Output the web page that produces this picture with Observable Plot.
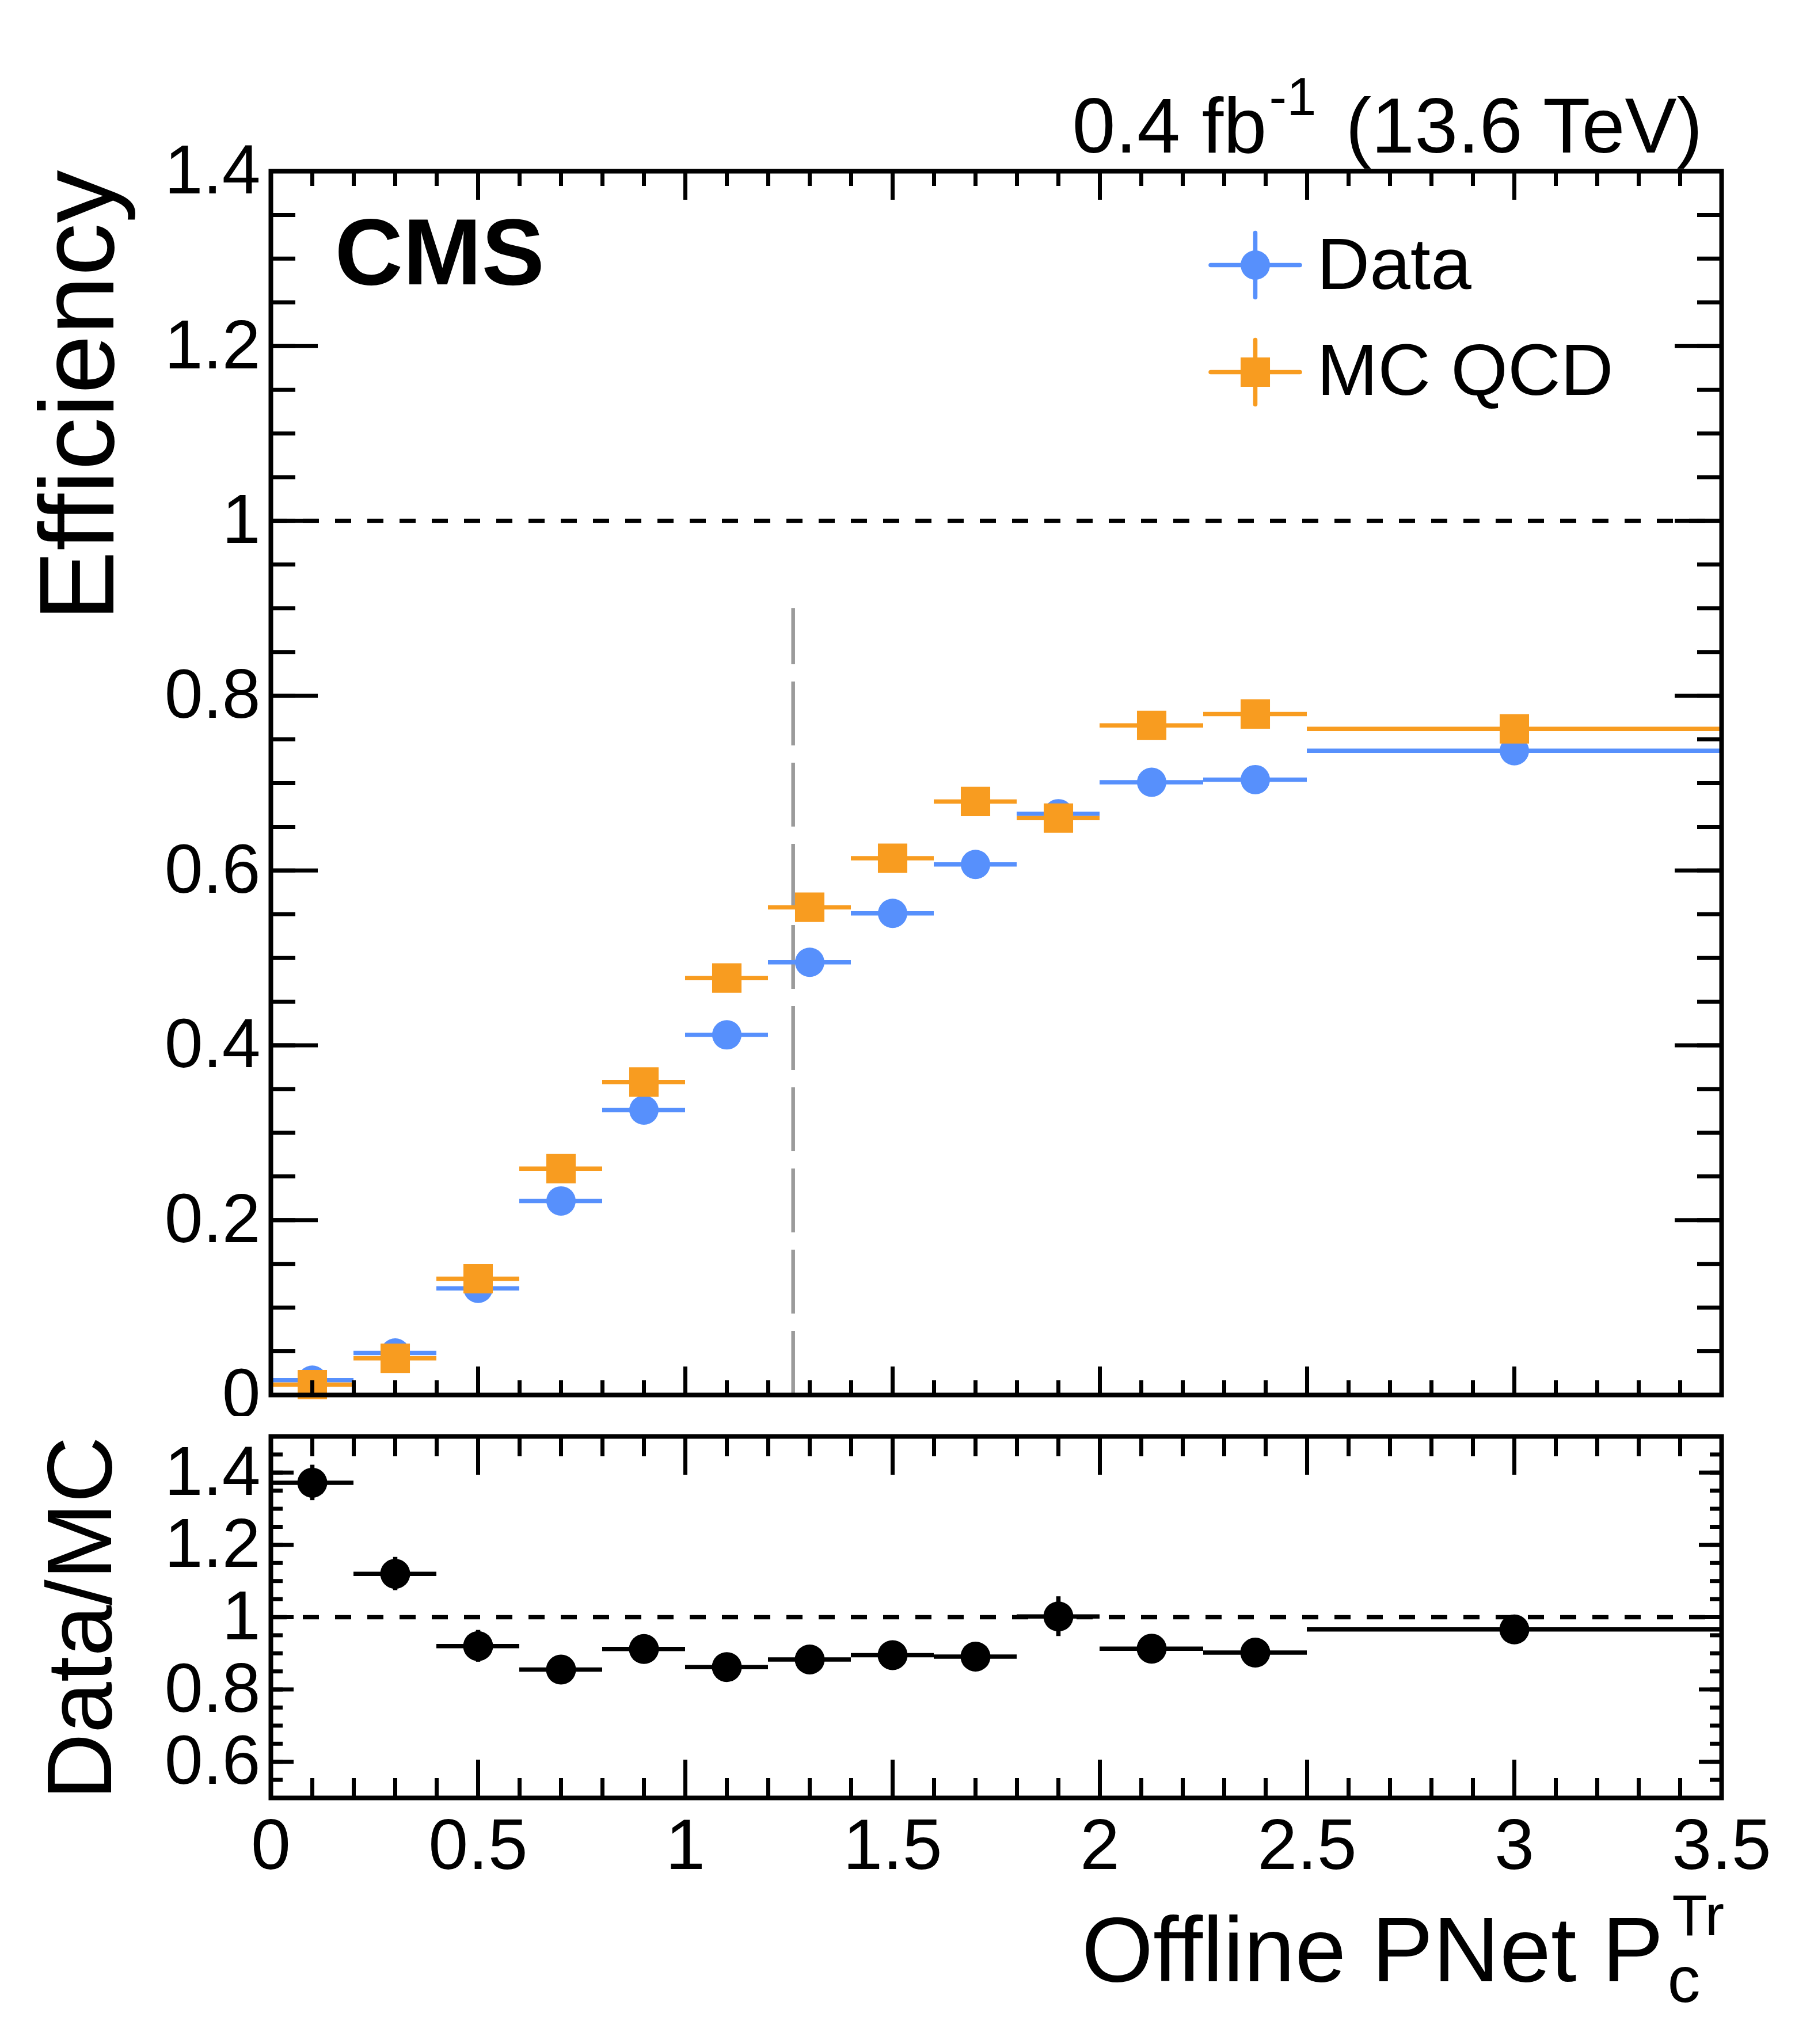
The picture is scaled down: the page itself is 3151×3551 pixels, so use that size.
<!DOCTYPE html>
<html><head><meta charset="utf-8">
<script src="https://cdn.jsdelivr.net/npm/d3@7"></script>
<script src="https://cdn.jsdelivr.net/npm/@observablehq/plot@0.6"></script>
<style>
html,body{margin:0;padding:0;background:#fff;}
#wrap{position:relative;width:3151px;height:3551px;background:#fff;overflow:hidden;}
#wrap svg{position:absolute;left:0;display:block;}
</style></head><body><div id="wrap"></div>
<script>
// ---- data ----
const binLo     = [0.0, 0.2, 0.4, 0.6, 0.8, 1.0, 1.2, 1.4, 1.6, 1.8, 2.0, 2.25, 2.5];
const binHi     = [0.2, 0.4, 0.6, 0.8, 1.0, 1.2, 1.4, 1.6, 1.8, 2.0, 2.25, 2.5, 3.5];
const binCenter = [0.1, 0.3, 0.5, 0.7, 0.9, 1.1, 1.3, 1.5, 1.7, 1.9, 2.125, 2.375, 3.0];
const dataEff   = [0.017, 0.048, 0.122, 0.222, 0.326, 0.412, 0.495, 0.551, 0.607, 0.665, 0.701, 0.704, 0.737];
const dataErr   = [0.003, 0.004, 0.006, 0.007, 0.008, 0.008, 0.008, 0.008, 0.008, 0.010, 0.008, 0.008, 0.006];
const mcEff     = [0.0118, 0.042, 0.133, 0.259, 0.358, 0.477, 0.558, 0.614, 0.679, 0.660, 0.766, 0.779, 0.762];
const mcErr     = [0.002, 0.003, 0.005, 0.006, 0.006, 0.007, 0.007, 0.007, 0.007, 0.008, 0.007, 0.007, 0.005];
const ratioVal  = [1.372, 1.120, 0.920, 0.855, 0.912, 0.862, 0.883, 0.895, 0.891, 1.002, 0.913, 0.902, 0.966];
const ratioErr  = [0.049, 0.046, 0.044, 0.035, 0.032, 0.030, 0.030, 0.030, 0.030, 0.055, 0.030, 0.030, 0.020];
const wpCut = 1.26;          // vertical grey dashed line
const wpCutTop = 0.9;
const xMajor = [0, 0.5, 1, 1.5, 2, 2.5, 3, 3.5];
const xTickLabels = ["0", "0.5", "1", "1.5", "2", "2.5", "3", "3.5"];
const yMainMajor = [0, 0.2, 0.4, 0.6, 0.8, 1, 1.2, 1.4];
const yMainLabels = ["0", "0.2", "0.4", "0.6", "0.8", "1", "1.2", "1.4"];
const yRatioMajor = [0.6, 0.8, 1, 1.2, 1.4];
const yRatioLabels = ["0.6", "0.8", "1", "1.2", "1.4"];
const legendLabels = ["Data", "MC QCD"];
const cmsLabel = ["CMS"];
const lumiMain = ["0.4 fb"], lumiSup = ["-1"], lumiTail = ["(13.6 TeV)"];
const yTitleMain = ["Efficiency"], yTitleRatio = ["Data/MC"];
const xTitle = ["Offline PNet P"], xTitleSub = ["c"], xTitleSup = ["Tr"];

// ---- style ----
const BLUE = "#5790fc", ORANGE = "#f89c20";
const FONT = "'Liberation Sans', Arial, Helvetica, sans-serif";
const W = 3151, ML = 470, MR = W - 2990;
const mainH = 2460, mainMT = 297, mainMB = mainH - 2423;
const ratioTopPx = 2460, ratioH = 3551 - 2460, ratioMT = 2495 - 2460, ratioMB = 3551 - 3123;

const xMinor = d3.range(36).map(i => +(i / 10).toFixed(2));
const yMainMinor = d3.range(29).map(i => +(i * 0.05).toFixed(2));
const yRatioMinor = d3.range(21).map(i => +(0.5 + i * 0.05).toFixed(2));
const lookup = (vals, labs) => d => labs[vals.findIndex(v => Math.abs(v - d) < 1e-9)];
const vline = {draw(ctx, l) { ctx.moveTo(0, 0); ctx.lineTo(0, -l); }};
const none = () => "";

function ticks(xMaj, xMin, yMaj, yMin, xMajL, xMinL, yMajL, yMinL) {
  const sw = 7;
  const o = {tickFormat: none, strokeWidth: sw, label: null};
  return [
    Plot.axisX({...o, ticks: xMaj, anchor: "bottom", tickSize: -xMajL}),
    Plot.axisX({...o, ticks: xMin, anchor: "bottom", tickSize: -xMinL}),
    Plot.axisX({...o, ticks: xMaj, anchor: "top", tickSize: -xMajL}),
    Plot.axisX({...o, ticks: xMin, anchor: "top", tickSize: -xMinL}),
    Plot.axisY({...o, ticks: yMaj, anchor: "left", tickSize: -yMajL}),
    Plot.axisY({...o, ticks: yMin, anchor: "left", tickSize: -yMinL}),
    Plot.axisY({...o, ticks: yMaj, anchor: "right", tickSize: -yMajL}),
    Plot.axisY({...o, ticks: yMin, anchor: "right", tickSize: -yMinL})
  ];
}

const rows = binLo.map((lo, i) => ({
  lo, hi: binHi[i], x: binCenter[i],
  d: dataEff[i], de: dataErr[i], m: mcEff[i], me: mcErr[i],
  r: ratioVal[i], re: ratioErr[i]
}));

const BW = 7.5;
const mainPlot = Plot.plot({
  width: W, height: mainH,
  marginLeft: ML, marginRight: MR, marginTop: mainMT, marginBottom: mainMB,
  style: {fontFamily: FONT, background: "white", overflow: "visible"},
  x: {domain: [0, 3.5]},
  y: {domain: [0, 1.4]},
  marks: [
    Plot.ruleY([1], {stroke: "black", strokeWidth: 7.5, strokeDasharray: "28,28"}),
    Plot.ruleX([wpCut], {y1: 0, y2: wpCutTop, stroke: "#9b9b9b", strokeWidth: 6.5, strokeDasharray: "111,30"}),
    // Data
    Plot.ruleY(rows, {x1: "lo", x2: "hi", y: "d", stroke: BLUE, strokeWidth: BW}),
    Plot.ruleX(rows, {x: "x", y1: r => r.d - r.de, y2: r => r.d + r.de, stroke: BLUE, strokeWidth: BW}),
    Plot.dot(rows, {x: "x", y: "d", r: 25.5, fill: BLUE}),
    // MC
    Plot.ruleY(rows, {x1: "lo", x2: "hi", y: "m", stroke: ORANGE, strokeWidth: BW}),
    Plot.ruleX(rows, {x: "x", y1: r => r.m - r.me, y2: r => r.m + r.me, stroke: ORANGE, strokeWidth: BW}),
    Plot.dot(rows, {x: "x", y: "m", r: 28.8, symbol: "square", fill: ORANGE}),
    Plot.frame({stroke: "black", strokeWidth: 8}),
    ...ticks(xMajor, xMinor, yMainMajor, yMainMinor, 49, 25, 82, 43),
    Plot.axisY({ticks: yMainMajor, anchor: "left", tickSize: 0, tickPadding: 18, tickFormat: lookup(yMainMajor, yMainLabels), fontSize: 120, label: null}),
    // legend
    Plot.vector([legendLabels[0]], {frameAnchor: "top-right", dx: -810, dy: 163, length: 112, rotate: 0, anchor: "middle", shape: vline, stroke: BLUE, strokeWidth: BW}),
    Plot.vector([legendLabels[0]], {frameAnchor: "top-right", dx: -810, dy: 163, length: 155, rotate: 90, anchor: "middle", shape: vline, stroke: BLUE, strokeWidth: BW}),
    Plot.dot([legendLabels[0]], {frameAnchor: "top-right", dx: -810, dy: 163, r: 25.5, fill: BLUE}),
    Plot.vector([legendLabels[1]], {frameAnchor: "top-right", dx: -810, dy: 349, length: 112, rotate: 0, anchor: "middle", shape: vline, stroke: ORANGE, strokeWidth: BW}),
    Plot.vector([legendLabels[1]], {frameAnchor: "top-right", dx: -810, dy: 349, length: 155, rotate: 90, anchor: "middle", shape: vline, stroke: ORANGE, strokeWidth: BW}),
    Plot.dot([legendLabels[1]], {frameAnchor: "top-right", dx: -810, dy: 349, r: 28.8, symbol: "square", fill: ORANGE}),
    Plot.text([legendLabels[0]], {frameAnchor: "top-right", text: d => d, dx: -703, dy: 204, textAnchor: "start", lineAnchor: "bottom", fontSize: 127}),
    Plot.text([legendLabels[1]], {frameAnchor: "top-right", text: d => d, dx: -703, dy: 388, textAnchor: "start", lineAnchor: "bottom", fontSize: 127}),
    // CMS label
    Plot.text(cmsLabel, {frameAnchor: "top-left", text: d => d, dx: 111, dy: 196, textAnchor: "start", lineAnchor: "bottom", fontSize: 164, fontWeight: "bold"}),
    // lumi
    Plot.text(lumiMain, {frameAnchor: "top-right", text: d => d, dx: -1128, dy: -33, textAnchor: "start", lineAnchor: "bottom", fontSize: 135}),
    Plot.text(lumiSup, {frameAnchor: "top-right", text: d => d, dx: -786, dy: -98, textAnchor: "start", lineAnchor: "bottom", fontSize: 92}),
    Plot.text(lumiTail, {frameAnchor: "top-right", text: d => d, dx: -33, dy: -33, textAnchor: "end", lineAnchor: "bottom", fontSize: 135}),
    // y title
    Plot.text(yTitleMain, {frameAnchor: "top-left", text: d => d, dx: -274, dy: -2, rotate: -90, textAnchor: "end", lineAnchor: "bottom", fontSize: 184})
  ]
});
mainPlot.style.top = "0px";

const ratioPlot = Plot.plot({
  width: W, height: ratioH,
  marginLeft: ML, marginRight: MR, marginTop: ratioMT, marginBottom: ratioMB,
  style: {fontFamily: FONT, background: "white", overflow: "visible"},
  x: {domain: [0, 3.5]},
  y: {domain: [0.5, 1.5]},
  marks: [
    Plot.ruleY([1], {stroke: "black", strokeWidth: 7.5, strokeDasharray: "28,28"}),
    Plot.ruleY(rows, {x1: "lo", x2: "hi", y: "r", stroke: "black", strokeWidth: BW}),
    Plot.ruleX(rows, {x: "x", y1: r => r.r - r.re, y2: r => r.r + r.re, stroke: "black", strokeWidth: BW}),
    Plot.dot(rows, {x: "x", y: "r", r: 26, fill: "black"}),
    Plot.frame({stroke: "black", strokeWidth: 8}),
    ...ticks(xMajor, xMinor, yRatioMajor, yRatioMinor, 66, 34, 40, 21),
    Plot.axisY({ticks: yRatioMajor, anchor: "left", tickSize: 0, tickPadding: 18, tickFormat: lookup(yRatioMajor, yRatioLabels), fontSize: 120, label: null}),
    Plot.axisX({ticks: xMajor, anchor: "bottom", tickSize: 0, tickPadding: 35, tickFormat: lookup(xMajor, xTickLabels), fontSize: 124, label: null}),
    Plot.text(yTitleRatio, {frameAnchor: "top-left", text: d => d, dx: -278, dy: 0, rotate: -90, textAnchor: "end", lineAnchor: "bottom", fontSize: 160}),
    Plot.text(xTitle, {frameAnchor: "bottom-right", text: d => d, dx: -101, dy: 318, textAnchor: "end", lineAnchor: "bottom", fontSize: 160}),
    Plot.text(xTitleSub, {frameAnchor: "bottom-right", text: d => d, dx: -94, dy: 354, textAnchor: "start", lineAnchor: "bottom", fontSize: 114}),
    Plot.text(xTitleSup, {frameAnchor: "bottom-right", text: d => d, dx: -86, dy: 238, textAnchor: "start", lineAnchor: "bottom", fontSize: 100})
  ]
});
ratioPlot.style.top = ratioTopPx + "px";

const wrap = document.getElementById("wrap");
wrap.appendChild(mainPlot);
wrap.appendChild(ratioPlot);
</script>
</body></html>
